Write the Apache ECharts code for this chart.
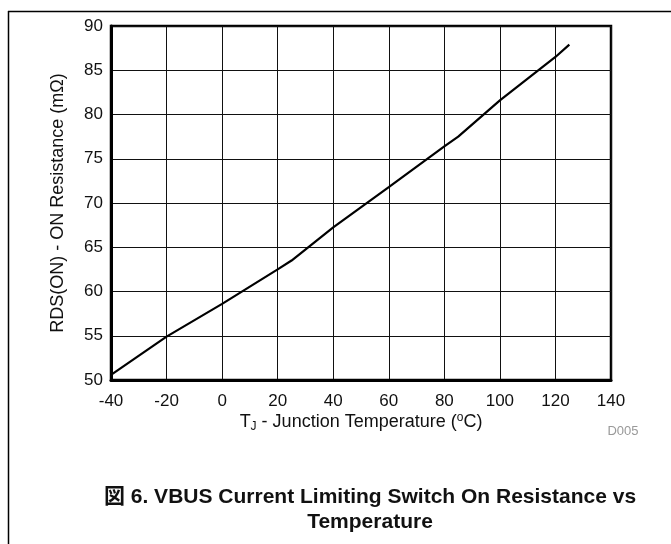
<!DOCTYPE html>
<html>
<head>
<meta charset="utf-8">
<script src="https://cdn.jsdelivr.net/npm/echarts@6/dist/echarts.min.js"></script>
<style>
html,body{margin:0;padding:0;background:#fff;}
#c{width:671px;height:544px;}
</style>
</head>
<body>
<div id="c"></div>
<script>
// Data
const temperatures = [-40, -20, 0, 20, 25, 40, 60, 80, 85, 100, 120, 125];
const resistance = [50.57, 54.9, 58.6, 62.5, 63.5, 67.25, 71.8, 76.4, 77.5, 81.6, 86.5, 87.9];
const xTicks = [-40, -20, 0, 20, 40, 60, 80, 100, 120, 140];
const yTicks = [50, 55, 60, 65, 70, 75, 80, 85, 90];

const FONT = '"Liberation Sans", Arial, sans-serif';
const chart = echarts.init(document.getElementById('c'), null, {renderer: 'canvas'});

const seriesData = temperatures.map((t, i) => [t, resistance[i]]);

chart.setOption({
  animation: false,
  backgroundColor: '#fff',
  grid: {
    left: 111, right: 60, top: 26, bottom: 164,
    show: true, borderColor: '#000', borderWidth: 2.5, backgroundColor: 'transparent'
  },
  xAxis: {
    type: 'value',
    min: xTicks[0], max: xTicks[xTicks.length - 1], interval: 20,
    axisLine: {show: true, onZero: false, lineStyle: {color: '#000', width: 3}},
    axisTick: {show: false},
    splitLine: {show: true, lineStyle: {color: '#111', width: 1}},
    axisLabel: {color: '#111', fontFamily: FONT, fontSize: 17, margin: 13}
  },
  yAxis: {
    type: 'value',
    min: yTicks[0], max: yTicks[yTicks.length - 1], interval: 5,
    axisLine: {show: true, onZero: false, lineStyle: {color: '#000', width: 3}},
    axisTick: {show: false},
    splitLine: {show: true, lineStyle: {color: '#111', width: 1}},
    axisLabel: {color: '#111', fontFamily: FONT, fontSize: 17, margin: 8},
    name: 'RDS(ON) - ON Resistance (mΩ)',
    nameLocation: 'middle', nameGap: 44,
    nameTextStyle: {color: '#111', fontFamily: FONT, fontSize: 18}
  },
  series: [{
    type: 'line',
    data: seriesData,
    showSymbol: false,
    symbol: 'none',
    lineStyle: {color: '#000', width: 2.2},
    z: 5
  }],
  graphic: [
    {type: 'line', shape: {x1: 8.5, y1: 11, x2: 8.5, y2: 544}, style: {stroke: '#000', lineWidth: 1.5}},
    {type: 'line', shape: {x1: 8, y1: 11.5, x2: 671, y2: 11.5}, style: {stroke: '#000', lineWidth: 1.5}},
    {
      type: 'text', x: 361, y: 422,
      style: {
        text: 'T{sub|J} - Junction Temperature ({sup|o}C)',
        fill: '#111', font: '18px ' + FONT, align: 'center', verticalAlign: 'middle',
        rich: {
          sub: {fontSize: 12, fontFamily: FONT, fill: '#111', padding: [9, 0, 0, 0]},
          sup: {fontSize: 12, fontFamily: FONT, fill: '#111', padding: [0, 0, 9, 0]}
        }
      }
    },
    {
      type: 'text', x: 623, y: 431,
      style: {text: 'D005', fill: '#999', font: '13px ' + FONT, align: 'center', verticalAlign: 'middle'}
    },
    {
      type: 'text', x: 370, y: 497,
      style: {text: '図 6. VBUS Current Limiting Switch On Resistance vs', fill: '#111',
        font: 'bold 21px "Liberation Sans", "Noto Sans CJK JP", Arial, sans-serif', align: 'center', verticalAlign: 'middle'}
    },
    {
      type: 'text', x: 370, y: 522,
      style: {text: 'Temperature', fill: '#111',
        font: 'bold 21px "Liberation Sans", "Noto Sans CJK JP", Arial, sans-serif', align: 'center', verticalAlign: 'middle'}
    }
  ]
});
</script>
</body>
</html>
